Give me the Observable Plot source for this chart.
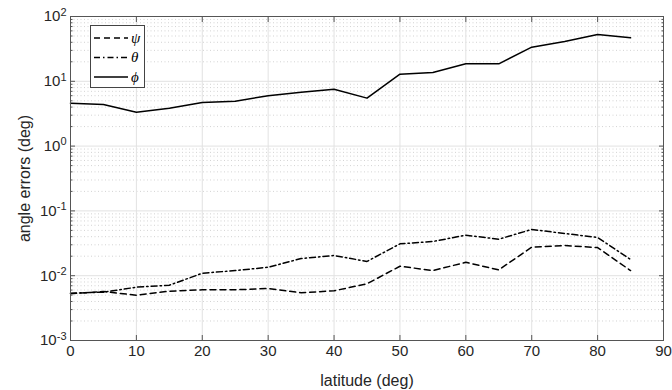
<!DOCTYPE html>
<html><head><meta charset="utf-8">
<script src="https://cdn.jsdelivr.net/npm/d3@7"></script>
<script src="https://cdn.jsdelivr.net/npm/@observablehq/plot@0.6"></script>
<style>
body{margin:0;background:#fff;}
#wrap{position:relative;width:672px;height:390px;font-family:"Liberation Sans",Arial,sans-serif;}
</style>
</head><body>
<div id="wrap"></div>
<script>
const latitude = [0,5,10,15,20,25,30,35,40,45,50,55,60,65,70,75,80,85];
const psi   = [0.00526,0.0057,0.0050,0.00577,0.00606,0.00606,0.00634,0.00545,0.00585,0.0075,0.0140,0.0120,0.0161,0.0123,0.0275,0.0292,0.0272,0.0120];
const theta = [0.00537,0.00557,0.00665,0.00714,0.0109,0.0120,0.0135,0.0184,0.0205,0.0166,0.0310,0.0337,0.0422,0.0366,0.0517,0.0448,0.0389,0.0178];
const phi   = [4.6,4.38,3.33,3.85,4.7,4.93,6.0,6.8,7.55,5.5,12.9,13.7,18.6,18.6,33.6,41,52.7,46.9];
const seriesNames = ["ψ","θ","ϕ"];
const xTicks = [0,10,20,30,40,50,60,70,80,90];
const yTicks = [1e-3,1e-2,1e-1,1e0,1e1,1e2];

const dashes = {"ψ":"6,4","θ":"6,3,1.5,3","ϕ":null};
const seriesVals = {"ψ":psi,"θ":theta,"ϕ":phi};
const data = seriesNames.flatMap(s => latitude.map((x,i)=>({s, x, y: seriesVals[s][i]})));
const minorY = [];
for (let e=-3;e<2;e++) for (let m=2;m<=9;m++) minorY.push(m*Math.pow(10,e));

const lineMarks = seriesNames.map(s => Plot.line(data.filter(d=>d.s===s), {x:"x", y:"y", stroke:"#000", strokeWidth:1.5, strokeDasharray: dashes[s]}));

const chart = Plot.plot({
  width:672, height:390,
  marginLeft:70, marginRight:9, marginTop:16, marginBottom:50,
  style:{fontFamily:"'Liberation Sans', Arial, sans-serif", fontSize:"15px", color:"#262626", background:"#fff"},
  x:{type:"linear", domain:[0,90]},
  y:{type:"log", domain:[1e-3,1e2]},
  marks:[
    Plot.ruleY(minorY, {stroke:"#c8c8c8", strokeWidth:0.8, strokeDasharray:"1,2.5"}),
    Plot.ruleX(xTicks, {stroke:"#e2e2e2", strokeWidth:1}),
    Plot.ruleY(yTicks, {stroke:"#e2e2e2", strokeWidth:1}),
    ...lineMarks,
    Plot.frame({stroke:"#555", strokeWidth:1}),
    Plot.axisX({ticks:xTicks, tickSize:-5, tickPadding:10, fontSize:15, tickFormat:d=>String(d), label:"latitude (deg)", labelAnchor:"center", labelArrow:"none", labelOffset:45, stroke:"#555", fill:"#262626"}),
    Plot.axisX({anchor:"top", ticks:xTicks, tickSize:-5, tickFormat:()=>"", label:null, stroke:"#555"}),
    Plot.axisY({ticks:yTicks, tickSize:-5, tickPadding:9, fontSize:15, tickFormat:d=>"10^"+Math.round(Math.log10(d)), label:"angle errors (deg)", labelAnchor:"center", labelArrow:"none", labelOffset:52, stroke:"#555", fill:"#262626"}),
    Plot.axisY({anchor:"right", ticks:yTicks, tickSize:-5, tickFormat:()=>"", label:null, stroke:"#555"}),
    Plot.axisY({anchor:"right", ticks:minorY, tickSize:-2.5, tickFormat:()=>"", label:null, stroke:"#555"}),
    Plot.axisY({anchor:"left", ticks:minorY, tickSize:-2.5, tickFormat:()=>"", label:null, stroke:"#555"})
  ]
});

// render exponents as superscripts
d3.select(chart).selectAll("text").each(function(){
  const t = this.textContent;
  const m = /^10\^(-?\d+)$/.exec(t);
  if (m) {
    const el = d3.select(this);
    el.text("");
    el.append("tspan").text("10");
    el.append("tspan").attr("dy","-0.5em").attr("font-size","11px").text(m[1]);
  }
});
d3.select(chart).selectAll("g[aria-label$='axis label']").attr("font-size","16px");

document.getElementById("wrap").appendChild(chart);

// legend
const leg = d3.select("#wrap").append("svg")
  .attr("width",56).attr("height",64)
  .style("position","absolute").style("left","90px").style("top","25px");
leg.append("rect").attr("x",0.5).attr("y",0.5).attr("width",54).attr("height",62).attr("fill","#fff").attr("stroke","#444");
seriesNames.forEach((s,i)=>{
  const yy = 13 + i*19.5;
  leg.append("line").attr("x1",4).attr("x2",38).attr("y1",yy).attr("y2",yy)
    .attr("stroke","#000").attr("stroke-width",1.5).attr("stroke-dasharray",dashes[s]);
  leg.append("text").attr("x",41).attr("y",yy+4.5).text(s)
    .attr("font-family","'Liberation Serif','DejaVu Serif',serif").attr("font-style","italic").attr("font-size","15px");
});
</script>
</body></html>
